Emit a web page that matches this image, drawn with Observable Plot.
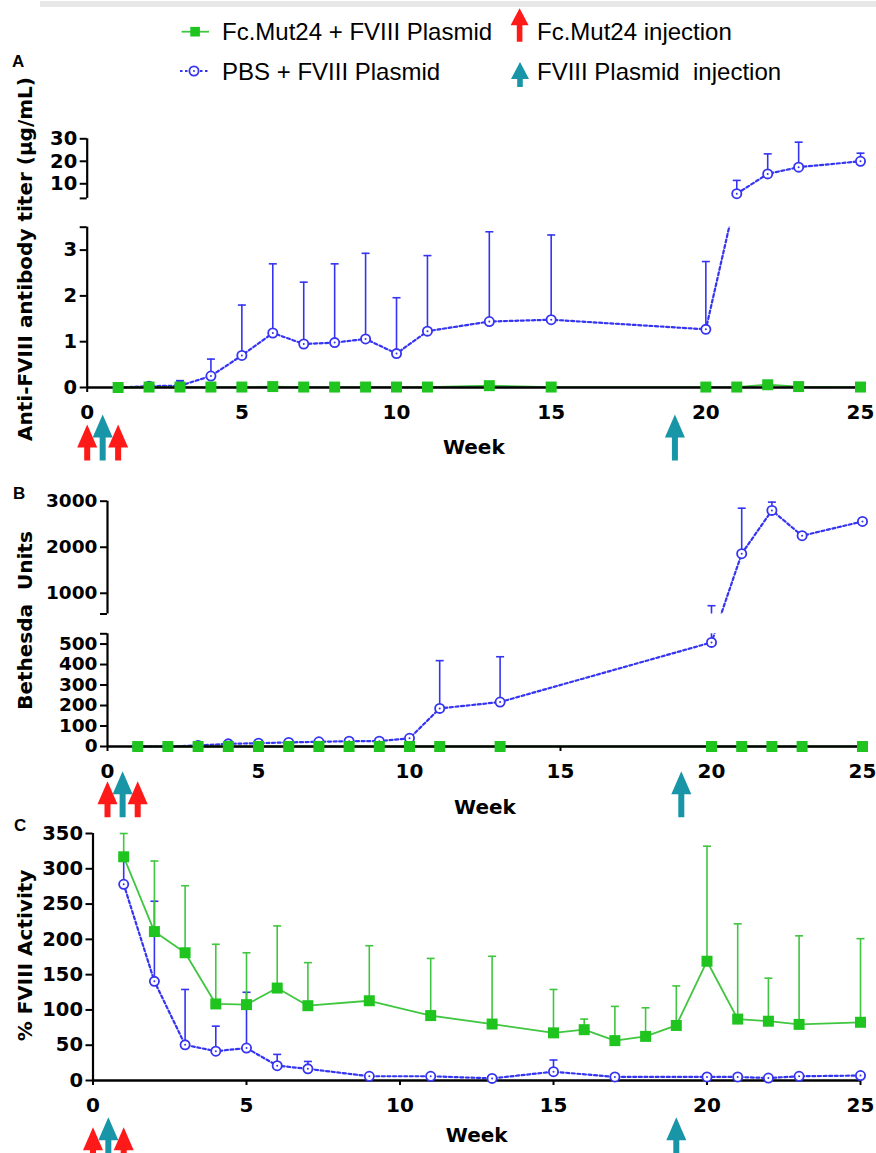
<!DOCTYPE html>
<html><head><meta charset="utf-8">
<script src="https://cdn.jsdelivr.net/npm/d3@7"></script>
<script src="https://cdn.jsdelivr.net/npm/@observablehq/plot@0.6"></script>
<style>
body{margin:0;background:#fff;}
#wrap{position:relative;width:876px;height:1153px;overflow:hidden;font-family:"Liberation Sans",Arial,sans-serif;background:#fff;}
.panel{position:absolute;left:0;}
.plab{position:absolute;font-weight:bold;font-size:17px;line-height:1;}
</style></head><body><div id="wrap"></div>
<script>
// ---------- data ----------
const xTicks = [0, 5, 10, 15, 20, 25];

// Panel A: anti-FVIII antibody titer (µg/mL)
const weeksA = [1,2,3,4,5,6,7,8,9,10,11,13,15,20,21,22,23,25];
const titerPBS    = [0.00,0.03,0.04,0.25,0.70,1.19,0.95,0.98,1.06,0.74,1.23,1.44,1.48,1.27,5.6,14.4,17.4,20.0];
const titerPBSErr = [null,0.07,0.15,0.62,1.80,2.70,2.30,2.70,2.93,1.96,2.88,3.40,3.33,2.75,11.5,23.3,28.5,23.6];
const titerFc     = [0.00,0.01,0.01,0.01,0.01,0.02,0.01,0.01,0.01,0.01,0.01,0.04,0.01,0.01,0.01,0.06,0.02,0.01];
const titerTicks = [0, 1, 2, 3, 10, 20, 30];

// Panel B: Bethesda units
const weeksB = [1,2,3,4,5,6,7,8,9,10,11,13,20,21,22,23,25];
const bethesdaPBS    = [0,0,5,13,16,20,23,26,26,40,186,217,508,1860,2800,2250,2560];
const bethesdaPBSErr = [null,null,null,null,null,null,null,null,null,null,419,438,730,2848,2980,null,null];
const bethesdaFc     = [0,0,0,0,0,0,0,0,0,0,0,0,0,0,0,0,0];
const bethesdaTicks = [0, 100, 200, 300, 400, 500, 1000, 2000, 3000];

// Panel C: % FVIII activity
const weeksCFc  = [1,2,3,4,5,6,7,9,11,13,15,16,17,18,19,20,21,22,23,25];
const activityFc    = [317,211,181,108.5,107.5,131,106,113,92,80,67.5,72,56.5,62.5,78,169,87,84,79.5,82.5];
const activityFcErr = [350,311,276,193,181,219,167,191,173,176,129,87,105,103,134,332,222,145,205,201];
const weeksCPBS = [1,2,3,4,5,6,7,9,11,13,15,17,20,21,22,23,25];
const activityPBS    = [278,140.5,50.5,41.5,46,21,16.5,6,6,3,12.5,5,5,5,3.5,6,7];
const activityPBSErr = [312,254,129,77,125,37,27,null,null,null,29,null,null,null,null,null,null];
const activityTicks = [0, 50, 100, 150, 200, 250, 300, 350];

// injections (weeks)
const fcInjections = [0, 1];
const plasmidInjections = [0.5, 19];

// ---------- styles ----------
const BLUE = "#3434f2", GREEN = "#1fc41f", GREENLINE = "#40c640", RED = "#ff1a1a", TEAL = "#1895a6";
const FONT = "DejaVu Sans";

function capSymbol(w) { return {draw(ctx) { ctx.moveTo(-w, 0); ctx.lineTo(w, 0); }}; }
function arrowSymbol(L, hw = 10, hh = 23, sw = 3) {
  return {draw(ctx) {
    ctx.moveTo(-sw, 0); ctx.lineTo(-sw, -(L - hh)); ctx.lineTo(-hw, -(L - hh));
    ctx.lineTo(0, -L); ctx.lineTo(hw, -(L - hh)); ctx.lineTo(sw, -(L - hh)); ctx.lineTo(sw, 0); ctx.closePath();
  }};
}
const rows = (weeks, vals, errs) => weeks.map((week, i) => ({week, value: vals[i], err: errs ? errs[i] : null}));
const xDomain = [0, 25];

function drawPanel(o) {
  const blueRows = rows(o.weeksBlue, o.blue, o.blueErr);
  const greenRows = rows(o.weeksGreen, o.green, o.greenErr);
  const be = blueRows.filter(d => d.err != null);
  const ge = greenRows.filter(d => d.err != null);
  const marks = [
    Plot.ruleX(be, {x: "week", y1: "value", y2: "err", stroke: BLUE, strokeWidth: 1.6}),
    Plot.dot(be, {x: "week", y: "err", symbol: capSymbol(4), stroke: BLUE, strokeWidth: 1.6, fill: "none"}),
    Plot.line(blueRows, {x: "week", y: "value", stroke: BLUE, strokeWidth: 2.2, strokeDasharray: "3,2.6"}),
    Plot.ruleX(ge, {x: "week", y1: "value", y2: "err", stroke: GREENLINE, strokeWidth: 1.6}),
    Plot.dot(ge, {x: "week", y: "err", symbol: capSymbol(4), stroke: GREENLINE, strokeWidth: 1.6, fill: "none"}),
    Plot.line(greenRows, {x: "week", y: "value", stroke: GREENLINE, strokeWidth: 1.8})
  ];
  if (o.gap) marks.push(Plot.rect([o.gap], {x1: xDomain[0], x2: xDomain[1], y1: d => d[0], y2: d => d[1], fill: "white", insetRight: -14}));
  marks.push(
    Plot.ruleY([0], {x1: xDomain[0], x2: xDomain[1], stroke: "black", strokeWidth: 2.6}),
    Plot.ruleX(o.segments, {x: xDomain[0], y1: d => d[0], y2: d => d[1], stroke: "black", strokeWidth: 2.2}),
    Plot.axisY(o.yTicks, {tickSize: 7, tickPadding: 3, tickFormat: "d", strokeWidth: 2, label: null, fontSize: o.tickFont, fontWeight: "bold"}),
    Plot.axisX(xTicks, {tickSize: 5, tickPadding: 12, tickFormat: "d", strokeWidth: 2, label: null, fontSize: 20, fontWeight: "bold"}),
    Plot.dot(blueRows, {x: "week", y: "value", r: 4.6, stroke: BLUE, strokeWidth: 1.8, fill: "white"}),
    Plot.dot(blueRows, {x: "week", y: "value", r: 1, fill: BLUE}),
    Plot.dot(greenRows, {x: "week", y: "value", r: 6.2, symbol: "square", fill: GREEN}),
    Plot.text([o.title], {text: d => d, frameAnchor: "left", textAnchor: "middle", lineAnchor: "middle", rotate: -90, dx: o.titleDx, dy: o.titleDy, fontSize: 20, fontWeight: "bold"}),
    Plot.text(["Week"], {text: d => d, frameAnchor: "bottom", textAnchor: "middle", lineAnchor: "middle", dy: o.weekDy, fontSize: 20, fontWeight: "bold"}),
    Plot.dot(fcInjections, {x: d => d, frameAnchor: "bottom", dy: o.arrowDy, symbol: arrowSymbol(36), fill: RED, stroke: "none"}),
    Plot.dot(plasmidInjections, {x: d => d, frameAnchor: "bottom", dy: o.arrowDy, symbol: arrowSymbol(46), fill: TEAL, stroke: "none"})
  );
  if (o.caps.length) marks.push(Plot.axisY(o.caps, {tickSize: 7, tickFormat: () => "", strokeWidth: 2, label: null}));
  const svg = Plot.plot({
    width: 876, height: o.height,
    marginLeft: o.marginLeft, marginRight: o.marginRight, marginTop: o.marginTop, marginBottom: o.marginBottom,
    x: {domain: xDomain, label: null},
    y: {type: "linear", domain: o.yDomain, range: o.yRange, label: null},
    style: {fontFamily: FONT, fontSize: "20px", fontWeight: "bold", background: "transparent", color: "black", overflow: "visible"},
    marks
  });
  svg.classList.add("panel");
  svg.style.top = o.top + "px";
  document.getElementById("wrap").appendChild(svg);
}

drawPanel({
  weeksBlue: weeksA, blue: titerPBS, blueErr: titerPBSErr,
  weeksGreen: weeksA, green: titerFc, greenErr: null,
  yDomain: [0, 3.5, 3.5001, 30], yRange: [292, 131.7, 102.9, 43.3],
  segments: [[0, 3.5], [3.5001, 30]], gap: [3.5, 3.5001], yTicks: titerTicks, caps: [3.5, 3.5001], tickFont: 19.5,
  top: 95, height: 375, marginLeft: 86.7, marginRight: 16, marginTop: 43, marginBottom: 83,
  title: "Anti-FVIII antibody titer (μg/mL)", titleDx: -62, titleDy: -4, weekDy: 59.7, arrowDy: 73
});
drawPanel({
  weeksBlue: weeksB, blue: bethesdaPBS, blueErr: bethesdaPBSErr,
  weeksGreen: weeksB, green: bethesdaFc, greenErr: null,
  yDomain: [0, 550, 550.001, 3000], yRange: [266, 153.3, 133.5, 20.7],
  segments: [[0, 550], [550.001, 3000]], gap: [550, 550.001], yTicks: bethesdaTicks, caps: [550, 550.001], tickFont: 18.5,
  top: 480, height: 345, marginLeft: 107, marginRight: 14, marginTop: 20, marginBottom: 79,
  title: "Bethesda  Units", titleDx: -82, titleDy: -3, weekDy: 60.7, arrowDy: 70.7
});
drawPanel({
  weeksBlue: weeksCPBS, blue: activityPBS, blueErr: activityPBSErr,
  weeksGreen: weeksCFc, green: activityFc, greenErr: activityFcErr,
  yDomain: [0, 350], yRange: [262, 15],
  segments: [[0, 350]], gap: null, yTicks: activityTicks, caps: [], tickFont: 19.5,
  top: 818, height: 335, marginLeft: 92.5, marginRight: 16, marginTop: 15, marginBottom: 73,
  title: "% FVIII Activity", titleDx: -67.5, titleDy: -1.5, weekDy: 55, arrowDy: 82.7
});

// ---------- legend, panel letters, top rule ----------
const wrap = document.getElementById("wrap");
const topRule = document.createElement("div");
topRule.style.cssText = "position:absolute;left:40px;top:1px;width:836px;height:6px;background:#e8e8e8;";
wrap.prepend(topRule);

function legArrow(x, tip, base, color) {
  const hw = 9, hh = 17, sw = 2.8, h = tip + hh;
  return `<path d="M${x - sw},${base}L${x - sw},${h}L${x - hw},${h}L${x},${tip}L${x + hw},${h}L${x + sw},${h}L${x + sw},${base}Z" fill="${color}"/>`;
}
const legend = document.createElementNS("http://www.w3.org/2000/svg", "svg");
legend.setAttribute("width", 876); legend.setAttribute("height", 100);
legend.style.cssText = "position:absolute;left:0;top:0;overflow:visible";
legend.innerHTML = `
  <g font-family="Liberation Sans, Arial, sans-serif" font-size="24" fill="black" style="white-space:pre">
    <line x1="181.6" x2="209" y1="31.7" y2="31.7" stroke="${GREENLINE}" stroke-width="1.8"/>
    <rect x="190.3" y="26.9" width="9.6" height="9.6" fill="${GREEN}"/>
    <text x="222" y="40.3">Fc.Mut24 + FVIII Plasmid</text>
    ${legArrow(519.6, 8.3, 41.7, RED)}
    <text x="537" y="40.3">Fc.Mut24 injection</text>
    <line x1="180" x2="208" y1="71" y2="71" stroke="${BLUE}" stroke-width="2" stroke-dasharray="2.5,2.5"/>
    <circle cx="194" cy="71" r="4.6" fill="white" stroke="${BLUE}" stroke-width="1.8"/>
    <circle cx="194" cy="71" r="1" fill="${BLUE}"/>
    <text x="222" y="79.6">PBS + FVIII Plasmid</text>
    ${legArrow(520, 62, 87, TEAL)}
    <text x="537" y="79.6" xml:space="preserve">FVIII Plasmid  injection</text>
  </g>`;
wrap.appendChild(legend);

[["A", 12, 52.7], ["B", 13, 485], ["C", 14, 816.7]].forEach(([t, l, tp]) => {
  const d = document.createElement("div");
  d.className = "plab"; d.textContent = t; d.style.left = l + "px"; d.style.top = tp + "px";
  wrap.appendChild(d);
});
</script></body></html>
